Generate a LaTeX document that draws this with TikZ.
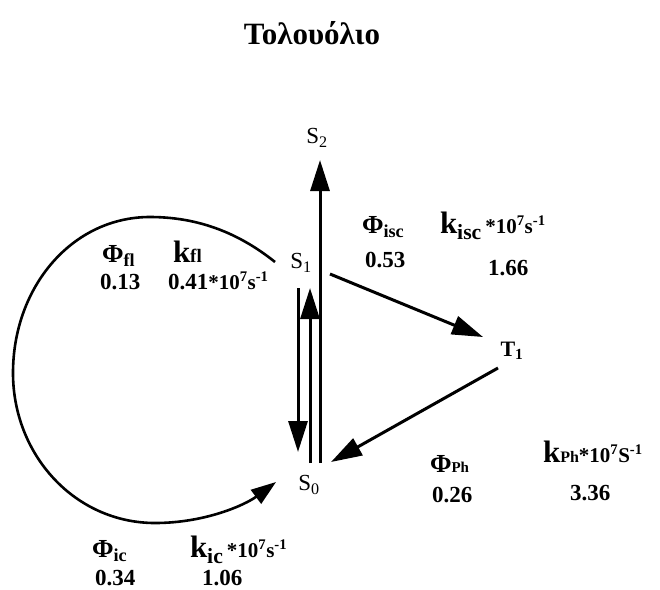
\documentclass[tikz,border=0pt]{standalone}
\usepackage{fontspec}
\setmainfont{Liberation Serif}
\usetikzlibrary{arrows.meta}
\begin{document}
\begin{tikzpicture}[x=1pt,y=-1pt,
  every node/.style={inner sep=0pt, outer sep=0pt},
  state/.style={font=\fontsize{23}{23}\selectfont},
  tstate/.style={font=\bfseries\fontsize{22}{22}\selectfont},
  num/.style={font=\bfseries\fontsize{23}{23}\selectfont, anchor=base west},
  lab/.style={font=\bfseries\fontsize{26}{26}\selectfont, anchor=base west},
  arr/.style={line width=3pt, -{Triangle[length=31pt,width=19pt]}},
  arcarr/.style={line width=2.6pt, -{Triangle[length=25pt,width=17pt]}}
]
\useasboundingbox (0,0) rectangle (660,589);

\node[font=\bfseries\fontsize{31}{31}\selectfont] (title) at (312,33) {Τολουόλιο};

\node[state] (S2) at (317,138) {S\textsubscript{2}};
\node[state] (S1) at (301,263) {S\textsubscript{1}};
\node[state] (S0) at (309,485) {S\textsubscript{0}};
\node[tstate] (T1) at (512,351) {T\textsubscript{1}};

% vertical arrows
\coordinate (upS2s) at (320,463);
\coordinate (upS2e) at (320,160);
\coordinate (upS1s) at (310,463);
\coordinate (upS1e) at (310,288);
\coordinate (dnS0s) at (298,288);
\coordinate (dnS0e) at (298,452);
\draw[arr] (upS2s) -- (upS2e);
\draw[arr] (upS1s) -- (upS1e);
\draw[arr] (dnS0s) -- (dnS0e);

% intersystem crossing and phosphorescence
\coordinate (iscS) at (330,274);
\coordinate (iscE) at (483,337);
\coordinate (phS) at (498,368);
\coordinate (phE) at (331,462);
\draw[arr] (iscS) -- (iscE);
\draw[arr] (phS) -- (phE);

% big arc (fluorescence / internal conversion)
\coordinate (arcS) at (275,262);
\coordinate (arcT) at (150,217);
\coordinate (arcL) at (13,373);
\coordinate (arcB) at (155,523);
\coordinate (arcE) at (276,482);
\draw[arcarr] (arcS) .. controls (245,238) and (205,217) .. (arcT)
  .. controls (72,217) and (13,287) .. (arcL)
  .. controls (13,455) and (75,523) .. (arcB)
  .. controls (205,523) and (245,505) .. (arcE);

% labels
\node[lab] (phifl) at (102,262) {Φ\textsubscript{fl}};
\node[num] (vfl) at (100,289) {0.13};
\node[lab] (kfl) at (173,262) {\fontsize{31}{31}\selectfont k{\fontsize{19}{19}\selectfont fl}};
\node[num] (kvfl) at (168,289) {0.41{\fontsize{21}{21}\selectfont *10\textsuperscript{7}s\textsuperscript{-1}}};

\node[lab] (phiisc) at (362,233) {Φ\textsubscript{isc}};
\node[num] (visc) at (365,267) {0.53};
\node[lab] (kisc) at (440,233) {\fontsize{31}{31}\selectfont k\textsubscript{isc}{\fontsize{21}{21}\selectfont\,*10\textsuperscript{7}s\textsuperscript{-1}}};
\node[num] (kvisc) at (488,275) {1.66};

\node[lab] (phiph) at (430,472) {Φ{\fontsize{15}{15}\selectfont Ph}};
\node[num] (vph) at (432,502) {0.26};
\node[lab] (kph) at (543,462) {\fontsize{31}{31}\selectfont k{\fontsize{16}{16}\selectfont Ph}{\fontsize{21}{21}\selectfont *10\textsuperscript{7}S\textsuperscript{-1}}};
\node[num] (kvph) at (570,500) {3.36};

\node[lab] (phiic) at (92,557) {Φ\textsubscript{ic}};
\node[num] (vic) at (95,585) {0.34};
\node[lab] (kic) at (190,557) {\fontsize{31}{31}\selectfont k\textsubscript{ic}{\fontsize{21}{21}\selectfont\,*10\textsuperscript{7}s\textsuperscript{-1}}};
\node[num] (kvic) at (202,585) {1.06};
\end{tikzpicture}
\end{document}
